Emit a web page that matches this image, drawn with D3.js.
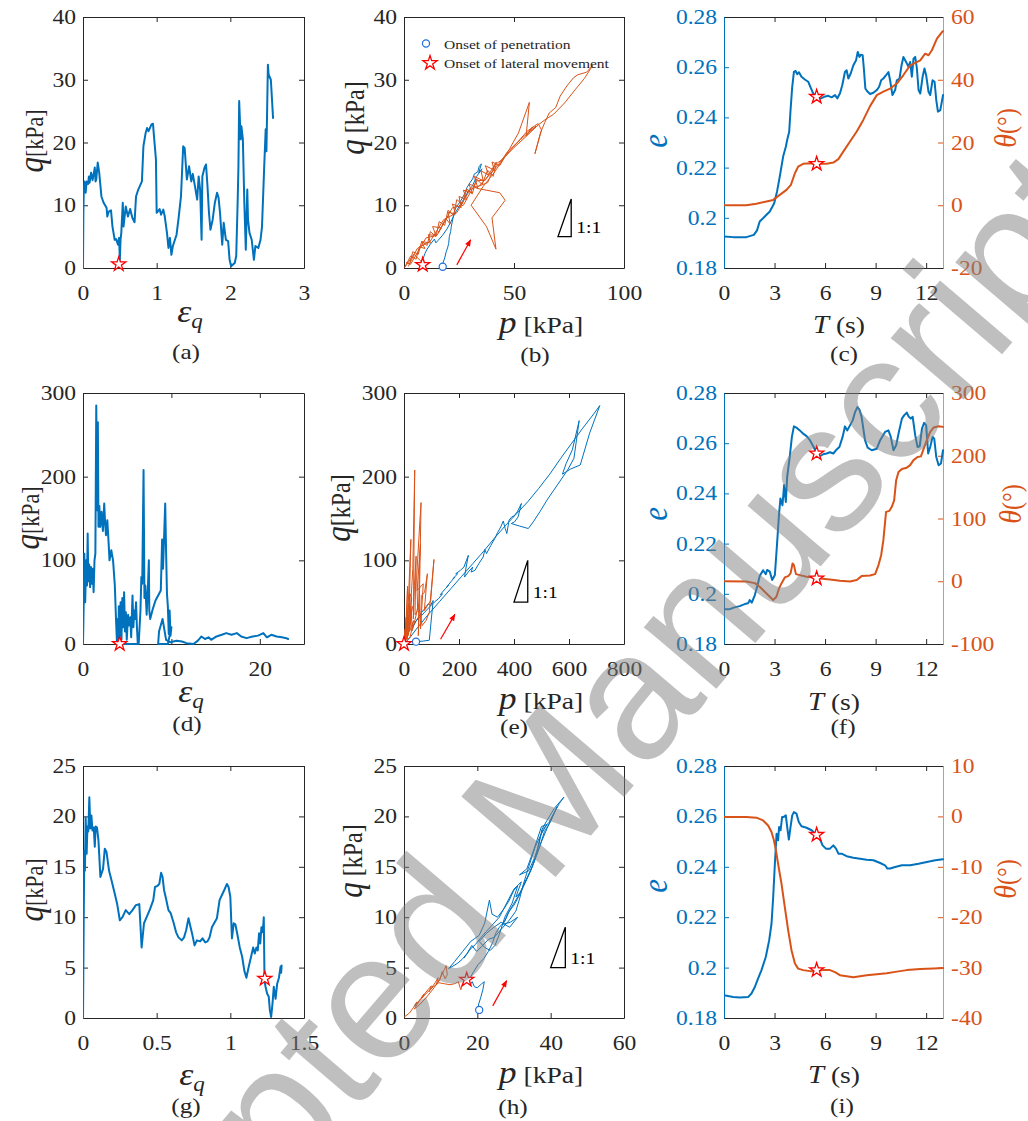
<!DOCTYPE html>
<html><head><meta charset="utf-8">
<script src="https://cdn.jsdelivr.net/npm/d3@7"></script>
<style>body{margin:0;background:#fff}</style>
</head><body>
<script>
// ---------- Row 1: case A ----------
const strainA = [[0,0],[0.005,8.8],[0.01,12],[0.02,13.8],[0.036,12],[0.05,13.8],[0.07,13.4],[0.08,14.6],[0.09,13.6],[0.11,15.2],[0.13,14.0],[0.16,16],[0.17,13.8],[0.18,14.1],[0.2,16.8],[0.22,15.2],[0.25,11.4],[0.28,10.4],[0.32,9.6],[0.33,8.2],[0.35,9.0],[0.38,9.2],[0.4,6.6],[0.43,4.5],[0.45,4.6],[0.475,3.7],[0.49,4.8],[0.5,1.3],[0.51,4.6],[0.52,5.6],[0.54,10.4],[0.55,6.6],[0.58,9.8],[0.61,8.2],[0.64,9.4],[0.67,8.0],[0.7,7.3],[0.72,11.4],[0.75,12.5],[0.77,13],[0.8,13.8],[0.82,19.4],[0.85,21.5],[0.87,22.3],[0.89,21.8],[0.93,22.9],[0.95,23],[0.96,21.5],[0.99,17.3],[1.0,8.8],[1.04,9.4],[1.06,8.5],[1.09,9.3],[1.11,8.2],[1.14,5.6],[1.16,3.2],[1.18,4.8],[1.2,2.1],[1.22,3.5],[1.27,5.3],[1.3,8.2],[1.33,11.4],[1.36,19.4],[1.38,19.1],[1.41,14.1],[1.44,16.2],[1.47,13.8],[1.49,15],[1.52,13],[1.55,10.9],[1.57,14.6],[1.59,12.5],[1.61,4.5],[1.62,14.6],[1.65,16],[1.67,16.5],[1.69,13],[1.71,8.8],[1.73,6.1],[1.76,7.7],[1.79,10.4],[1.82,12],[1.84,11.2],[1.86,8.8],[1.89,3.7],[1.91,7.2],[1.94,4.5],[1.97,4.3],[1.99,1.3],[2.01,0.3],[2.06,0.8],[2.08,1.9],[2.1,10.9],[2.11,16.2],[2.12,26.6],[2.14,20.5],[2.15,22.6],[2.17,20.5],[2.19,10.4],[2.21,2.9],[2.23,12.5],[2.24,7.7],[2.26,5.6],[2.29,4.5],[2.32,1.3],[2.34,3.5],[2.38,3.2],[2.41,4.5],[2.43,6.6],[2.46,16.2],[2.48,22.1],[2.49,18.6],[2.51,32.4],[2.52,30.8],[2.55,30],[2.58,23.9]];
const starA = [0.485, 0.6];

const pathB_before = [[17.6,0.2],[17.8,0.9],[18.5,1.6],[19.2,2.6],[19.8,3.2],[20.3,3.9],[20.6,5.0],[21.2,5.8],[21.5,6.6],[22.0,7.5],[22.8,8.8],[23.5,9.6],[24.8,10.2],[26.3,11.0],[27.5,11.8],[28.6,12.8],[30.0,13.6],[31.2,14.2],[32.0,15.0],[33.5,15.3],[34.2,16.2],[35.2,16.6],[34.0,15.2],[35.5,15.8],[33.0,14.6],[31.0,13.0],[29.5,12.5],[28.0,11.4],[26.5,10.6],[25.0,9.8],[23.0,8.6],[21.5,7.5],[19.5,6.2],[17.5,5.2],[15.5,4.4],[14.5,4.0],[13.8,4.6],[12.0,3.8],[10.5,3.0],[9.5,2.3],[8.8,1.6]];
const pathB_after = [[8.5,0.8],[4.5,2.2],[0.3,0.1],[3,1.9],[5.5,1.4],[7,3.4],[9.5,3.1],[8,4.2],[12,4.0],[11,5.3],[14.5,5.2],[13,6.6],[17,6.4],[15.5,5.6],[19,7.9],[21,7.0],[20,8.9],[23.5,8.6],[22,10.2],[26,9.6],[25,11.4],[28.5,10.9],[27,12.4],[31,12.0],[29.5,13.4],[33.5,12.8],[32,14.6],[36,13.9],[35,15.5],[38.5,14.8],[37,16.3],[41,15.6],[40,16.9],[43.5,16.3],[48,19],[52,21.5],[57,26.4],[55.5,21.0],[58.5,22.5],[56,21.4],[60,22.6],[53,20.5],[47,18.5],[43,16.5],[38,14.5],[33,12.7],[36,12.5],[43.5,12.0],[46,10.8],[40,8.0],[41.8,3.0],[37.5,6.6],[30.5,10.0],[36,13.0],[41,15.2],[46,17.8],[51,19.8],[56,21.8],[60,22.8],[61,23.0],[62.5,22.0],[59.5,18.2],[62,21.5],[64,23.2],[66,24.7],[69,25.6],[71,27.4],[74,29],[77,30.3],[79,30.8],[83,31.2],[85.8,32.3],[82,30.2],[78,28.5],[73,26.3],[68,24.5],[64,23.6],[61,22.8],[55,20.8],[50,19.2],[45,17.4],[42,16.6],[40.5,14.6],[38,15.6],[35.5,13.3],[33,14.2],[31,11.8],[28.5,12.6],[26.5,10.2],[24,10.9],[22.5,8.4],[20,9.2],[18.5,6.8],[16,7.4],[14.5,5.0],[12,5.8],[10.5,3.6],[8,4.2],[6.5,2.2],[4,2.6],[2.5,0.6],[1,0.9],[3,0.6],[10,4.8],[15,5.2],[22,9.6],[27,10.0],[33,13.9],[37,14.0],[42,16.9],[38,13.6],[30,12.5],[24,8.8],[18,7.7],[12,4.3],[6,3.1],[2,0.3]];
const circleB = [17.6, 0.2];
const starB = [8.5, 0.5];
const arrowB = [[24,0.5],[30.3,4.5]];
const slopeB = [[70,5],[76,11]];

const voidC = [[0,0.1926],[0.54,0.1923],[1.33,0.1923],[1.77,0.1932],[1.96,0.195],[2.12,0.1985],[2.42,0.2005],[2.72,0.2025],[2.98,0.2058],[3.15,0.2105],[3.31,0.2164],[3.51,0.2244],[3.67,0.2283],[3.75,0.231],[3.87,0.2343],[3.95,0.2429],[4.05,0.2522],[4.15,0.2581],[4.25,0.2585],[4.35,0.2572],[4.45,0.258],[4.6,0.2562],[4.8,0.2551],[5.0,0.2542],[5.14,0.252],[5.3,0.2495],[5.5,0.2482],[5.69,0.2474],[5.95,0.2482],[6.19,0.2486],[6.39,0.248],[6.59,0.2489],[6.73,0.2476],[6.88,0.2495],[7.02,0.2528],[7.18,0.2581],[7.28,0.2588],[7.38,0.2555],[7.52,0.2575],[7.68,0.2608],[7.84,0.2628],[7.94,0.2661],[8.04,0.2641],[8.13,0.265],[8.23,0.2648],[8.31,0.2588],[8.39,0.2515],[8.53,0.2502],[8.67,0.2493],[8.87,0.2498],[9.07,0.2509],[9.21,0.2522],[9.33,0.2548],[9.46,0.2555],[9.62,0.2568],[9.76,0.2581],[9.86,0.2548],[10.0,0.2489],[10.16,0.2509],[10.26,0.2548],[10.42,0.2555],[10.54,0.2608],[10.65,0.2641],[10.81,0.2621],[10.95,0.2601],[11.05,0.2621],[11.15,0.2562],[11.25,0.2634],[11.35,0.2641],[11.45,0.2595],[11.55,0.2509],[11.65,0.2495],[11.79,0.2562],[11.9,0.2595],[12.0,0.2568],[12.14,0.2502],[12.24,0.2489],[12.38,0.2548],[12.5,0.2542],[12.6,0.2469],[12.7,0.2423],[12.84,0.2429],[13.0,0.2489]];
const thetaC = [[0,0],[1.33,0],[1.92,0.5],[2.52,1.2],[2.92,1.7],[3.31,3.3],[3.71,4.9],[3.97,6.5],[4.21,10.2],[4.4,12.3],[4.7,13.2],[5.1,13.4],[5.5,13.2],[6.09,13.2],[6.49,13.6],[6.79,14.7],[7.08,17.1],[7.48,20.3],[7.88,23.5],[8.27,27.2],[8.67,31.6],[9.07,35.1],[9.46,36.2],[9.86,37.2],[10.26,38.8],[10.65,41.5],[11.05,44.6],[11.35,45.4],[11.65,46.2],[11.94,48.3],[12.14,47.8],[12.34,49.4],[12.64,53.1],[12.94,55.2],[13.0,55.5]];
const starsC = {t: 5.5, e: 0.2482, theta: 13.2};

// ---------- Row 2: case B ----------
const strainD = [[0,0],[0.05,30],[0.1,60],[0.15,108],[0.25,50],[0.35,100],[0.45,70],[0.53,132],[0.6,75],[0.7,95],[0.8,68],[0.9,92],[1.0,72],[1.1,90],[1.2,62],[1.3,100],[1.4,108],[1.5,285],[1.6,160],[1.68,265],[1.75,140],[1.85,165],[1.95,140],[2.1,158],[2.25,135],[2.4,168],[2.5,145],[2.6,130],[2.75,148],[2.9,120],[3.0,100],[3.2,112],[3.4,100],[3.6,70],[3.75,25],[3.85,0],[3.92,30],[4.0,0],[4.05,45],[4.15,10],[4.25,50],[4.35,5],[4.45,55],[4.55,20],[4.65,62],[4.75,15],[4.85,38],[4.95,5],[5.1,35],[5.2,22],[5.35,32],[5.45,8],[5.6,58],[5.7,20],[5.8,40],[5.9,30],[6.0,50],[6.1,20],[6.2,0],[6.0,0],[5.0,0],[4.3,0],[4.6,0],[5.5,0],[6.3,0],[6.5,40],[6.6,80],[6.7,72],[6.85,208],[6.95,55],[7.05,70],[7.2,35],[7.35,70],[7.45,100],[7.5,40],[7.6,30],[7.9,42],[8.2,52],[8.5,58],[8.8,64],[8.95,125],[9.05,90],[9.15,120],[9.3,168],[9.4,110],[9.5,60],[9.6,45],[9.7,12],[9.8,40],[9.9,10],[10.0,20],[9.6,0],[9.0,0],[8.5,0],[8.6,15],[9.0,30],[9.4,5],[9.9,2],[10.2,3],[10.6,4],[11.2,3],[11.7,1],[12.5,0],[13.0,4],[13.4,9],[13.8,6],[14.2,8],[14.5,5],[15.1,9],[15.7,11],[16.2,13],[16.8,11],[17.4,13],[17.9,9],[18.5,7],[19.2,9],[19.8,10],[20.4,13],[20.8,8],[21.3,11],[21.9,9],[22.5,8],[23.0,7],[23.2,6]];
const starD = [4.15, 0];

const pathE_before = [[43.6,2.8],[70,3.5],[92,4.5],[98,25],[106,52],[96,46],[88,48],[72,41],[60,36],[45,28],[30,19],[42,27],[58,32],[75,38],[95,45],[110,50],[125,54],[140,60],[132,59],[150,66],[162,70],[155,68],[172,75],[185,80],[178,78],[195,84],[188,84],[205,88],[218,92],[234,106],[226,92],[220,80],[236,87],[250,92],[244,86],[258,88],[272,96],[288,104],[294,113],[300,108],[316,118],[330,126],[340,133],[352,140],[361,147],[368,138],[374,132],[382,148],[392,152],[400,153],[412,158],[427,168],[415,152],[402,146],[390,144],[420,141],[452,138],[470,146],[494,158],[520,172],[545,184],[570,196],[595,208],[618,222],[637,267],[612,232],[590,216],[576,203],[605,209],[641,214],[675,252],[712,285],[690,275],[650,258],[610,240],[570,222],[530,203],[490,186],[450,170],[410,156],[370,142],[330,127],[290,111],[250,96],[210,81],[170,66],[130,51],[90,36],[50,20],[20,7],[0,0]];
const pathE_after = [[0,0],[4,18],[2,4],[8,32],[5,8],[13,69],[9,14],[16,48],[12,20],[25,125],[18,28],[22,60],[28,55],[20,22],[32,90],[39,208],[34,30],[38,70],[44,105],[40,35],[50,40],[46,80],[58,148],[62,169],[55,35],[52,10],[56,95],[60,120],[48,64],[70,72],[60,18],[63,58],[75,62],[85,84],[74,40],[97,52],[109,101],[92,38],[80,28],[66,22],[52,48],[45,36],[35,22],[30,16],[26,40],[20,42],[14,12],[12,6],[16,26],[8,10],[10,30],[4,6],[18,35],[8,5],[25,30],[15,10],[30,45],[20,15],[35,28],[22,8],[6,4],[3,14],[2,12],[0,0]];
const circleE = [43.6, 2.8];
const starE = [0, 0];
const arrowE = [[133,5.6],[185,35.4]];
const slopeE = [[400,50],[450,100]];

const voidF = [[0,0.1938],[0.3,0.1938],[0.63,0.1946],[0.93,0.1951],[1.23,0.1959],[1.43,0.1962],[1.53,0.1975],[1.65,0.1965],[1.83,0.1995],[1.98,0.2031],[2.12,0.2071],[2.32,0.2094],[2.48,0.2078],[2.56,0.2095],[2.72,0.2088],[2.86,0.2055],[3.02,0.2075],[3.15,0.22],[3.27,0.232],[3.35,0.238],[3.47,0.2353],[3.57,0.2433],[3.67,0.2366],[3.75,0.2466],[3.9,0.2545],[4.03,0.2625],[4.15,0.2667],[4.3,0.2662],[4.5,0.2651],[4.7,0.2638],[4.9,0.2628],[5.1,0.2612],[5.3,0.2588],[5.5,0.2559],[5.69,0.2548],[5.89,0.2556],[6.09,0.2559],[6.29,0.2564],[6.49,0.2559],[6.69,0.2575],[6.85,0.2585],[7.04,0.2625],[7.18,0.2667],[7.32,0.2651],[7.48,0.2671],[7.64,0.2691],[7.78,0.2724],[7.92,0.2744],[8.04,0.2734],[8.17,0.2704],[8.27,0.2658],[8.37,0.2612],[8.53,0.2582],[8.77,0.2572],[9.07,0.2578],[9.27,0.2612],[9.56,0.2645],[9.76,0.2651],[9.9,0.2625],[10.06,0.2572],[10.22,0.2592],[10.36,0.2638],[10.56,0.2698],[10.69,0.2711],[10.85,0.2722],[10.97,0.2705],[11.09,0.2698],[11.2,0.2705],[11.35,0.2632],[11.49,0.2585],[11.62,0.2588],[11.75,0.2658],[11.88,0.2681],[12.0,0.2671],[12.12,0.2559],[12.24,0.2585],[12.38,0.2625],[12.48,0.2618],[12.6,0.2545],[12.74,0.2512],[12.88,0.2519],[13.0,0.2572]];
const thetaF = [[0,0],[1.33,-0.3],[1.83,-3],[2.12,-8.8],[2.42,-16.7],[2.72,-24.7],[2.92,-30],[3.11,-24.7],[3.27,-11.4],[3.41,-3.4],[3.61,6.1],[3.81,8.2],[3.95,12.5],[4.07,28.4],[4.15,25.7],[4.27,11.4],[4.5,9.8],[4.9,7.2],[5.3,6.1],[5.69,4.5],[6.29,2.9],[6.88,0.8],[7.48,-0.3],[7.88,1.9],[8.17,8.2],[8.67,9.3],[8.97,11.4],[9.17,25.7],[9.33,41.6],[9.46,65.5],[9.62,110.6],[9.82,112.2],[9.96,118.6],[10.1,129],[10.22,161],[10.36,174],[10.56,179],[10.85,181],[11.05,185],[11.25,193],[11.49,198],[11.69,199],[11.85,211],[12.04,225],[12.24,238],[12.44,245],[12.74,247],[13,246]];
const starsF = {t: 5.5, e: 0.2559, theta: 4.5};

// ---------- Row 3: case C ----------
const strainG = [[0,0],[0.005,10],[0.009,16.6],[0.013,14.6],[0.018,19.9],[0.025,16.3],[0.03,19],[0.036,18.5],[0.043,21.9],[0.05,18.8],[0.057,20.1],[0.064,18.6],[0.073,18.9],[0.08,17],[0.086,19],[0.095,18.9],[0.105,17.6],[0.118,14],[0.136,14.8],[0.148,16.8],[0.159,16.5],[0.177,14.6],[0.193,13.7],[0.216,12.3],[0.232,11.3],[0.25,9.7],[0.268,10],[0.29,10.7],[0.314,10.3],[0.336,10.7],[0.359,11.2],[0.382,11.3],[0.398,7.0],[0.414,9.4],[0.432,10],[0.455,10.8],[0.477,11.7],[0.489,13],[0.505,13.1],[0.518,13.3],[0.53,14.4],[0.54,14.0],[0.55,12.7],[0.564,11.8],[0.58,10.7],[0.595,10.4],[0.614,9.5],[0.632,8.5],[0.648,8],[0.67,7.7],[0.686,8],[0.7,8.7],[0.716,9.9],[0.727,9.2],[0.743,8.2],[0.757,7.2],[0.773,7.7],[0.795,7.6],[0.811,7.9],[0.83,7.5],[0.845,7.6],[0.859,8],[0.875,9],[0.89,9.4],[0.909,9.9],[0.927,11.7],[0.943,12.2],[0.959,12.7],[0.977,13.3],[0.988,13.0],[1.0,12],[1.011,7.9],[1.023,9.4],[1.034,9.3],[1.045,8.5],[1.064,7],[1.08,6.1],[1.095,4.7],[1.109,4],[1.125,5.1],[1.141,6.1],[1.155,7],[1.166,6.4],[1.177,7],[1.186,6.7],[1.195,8.4],[1.203,7.4],[1.211,9],[1.22,8.5],[1.227,10],[1.232,3.7],[1.239,3.1],[1.25,2.4],[1.261,2.1],[1.268,0.8],[1.277,0.1],[1.286,1.4],[1.295,3.1],[1.307,1.9],[1.318,3.4],[1.33,4],[1.341,5.1],[1.345,4.5],[1.348,5.2]];
const starG = [1.234, 3.9];

const pathH_before = [[20.5,0.8],[20.3,1.3],[20.9,2.0],[21.5,2.8],[21.9,3.6],[21.2,3.4],[20.0,3.0],[19.2,3.1],[18.6,3.6],[18.0,3.3],[17.6,3.7],[19.0,4.6],[20.2,5.3],[21.8,5.9],[23.0,6.6],[24.2,7.5],[25.0,8.4],[26.0,9.0],[27.5,9.6],[28.5,10.5],[30.0,11.2],[31.5,12.2],[32.5,13.0],[33.8,14.0],[35.0,15.0],[36.2,16.4],[37.0,17.8],[38.0,18.8],[39.5,19.4],[41.0,20.4],[42.4,21.3],[43.6,21.9],[41.0,20.8],[39.0,19.6],[37.6,18.7],[36.8,17.2],[35.6,15.9],[34.0,14.6],[31.5,14.2],[33.5,14.8],[35.5,16.8],[37.5,19.0],[39.0,19.2],[37.5,18.3],[35.8,17.0],[34.0,15.0],[32.5,13.2],[31.5,11.8],[30.5,10.6],[28.5,9.6],[26.5,8.8],[24.6,8.0],[23.0,7.8],[21.5,7.2],[19.8,6.6],[18.5,7.2],[17.2,6.4],[15.8,5.8],[14.5,5.4],[12.2,4.9],[13.8,5.6],[16.0,6.6],[18.2,7.6],[20.5,8.2],[22.0,9.4],[23.3,11.7],[24.0,10.3],[25.5,10.0],[27.2,10.8],[28.6,11.6],[30.0,12.7],[31.0,13.1],[29.5,11.4],[27.5,10.0],[26.0,8.3],[24.8,7.2],[23.5,6.7],[22.0,7.0],[20.5,7.6],[22.5,8.4],[24.5,9.0],[26.5,9.5],[28.8,9.0],[31.0,10.0],[29.0,9.5],[27.0,9.3],[29.0,10.8],[31.5,12.3],[33.0,13.5],[34.5,14.6],[36.0,16.0],[37.5,17.5],[39.0,18.8],[40.5,20.0],[41.8,21.0],[40.0,19.5],[38.3,18.5],[37.0,17.0],[35.5,15.5],[33.5,13.8],[31.8,12.5],[30.5,12.0],[32.0,13.5],[30.0,12.8],[28.0,11.4],[26.0,10.0],[24.0,9.2],[22.5,8.6],[21.0,8.0],[19.5,7.3],[18.0,6.8],[16.5,6.0]];
const pathH_after = [[0.1,0.1],[1.5,0.5],[2.5,1.0],[3.5,1.6],[3.0,1.2],[4.5,1.9],[5.5,2.4],[4.8,2.0],[6.5,2.8],[7.5,3.2],[6.8,2.6],[8.5,3.5],[9.3,4.0],[8.8,3.3],[10.2,4.2],[11.0,4.8],[11.5,5.2],[11.8,4.3],[11.2,3.9],[10.4,4.6],[9.8,3.8],[8.2,3.0],[6.0,2.0],[4.2,1.3],[2.8,0.9],[4.0,1.6],[6.2,2.5],[8.0,3.1],[9.5,3.5],[11.0,3.4],[12.5,3.3],[13.8,3.4],[14.8,3.6],[15.5,2.8],[15.9,3.4],[16.4,3.6],[17.0,3.9]];
const circleH = [20.5, 0.8];
const starH = [17.1, 3.8];
const arrowH = [[24.2,1.2],[28,3.7]];
const slopeH = [[40,5],[44,9]];

const voidI = [[0,0.189],[0.54,0.1883],[0.93,0.1881],[1.43,0.1883],[1.63,0.1897],[1.83,0.1923],[2.02,0.1956],[2.22,0.1989],[2.48,0.2042],[2.68,0.2108],[2.82,0.2174],[2.92,0.228],[3.02,0.2412],[3.12,0.2531],[3.21,0.2505],[3.27,0.2558],[3.36,0.2545],[3.45,0.2598],[3.55,0.2598],[3.67,0.2604],[3.75,0.2558],[3.85,0.2508],[3.95,0.2558],[4.05,0.2604],[4.15,0.2617],[4.3,0.2611],[4.44,0.2578],[4.6,0.2561],[4.9,0.2555],[5.2,0.2545],[5.5,0.2525],[5.69,0.2512],[5.85,0.2485],[6.05,0.2472],[6.29,0.2472],[6.49,0.2485],[6.65,0.2472],[6.79,0.2452],[6.98,0.2452],[7.28,0.2442],[7.68,0.2436],[8.08,0.2432],[8.47,0.2428],[8.87,0.2426],[9.27,0.2415],[9.56,0.2406],[9.7,0.2393],[9.86,0.2393],[10.16,0.2399],[10.56,0.2406],[11.05,0.2406],[11.55,0.2412],[12.04,0.2419],[12.54,0.2426],[13,0.243]];
const thetaI = [[0,-0.1],[1.33,-0.1],[1.92,-0.25],[2.32,-0.8],[2.62,-1.8],[2.82,-3.1],[2.96,-4.7],[3.08,-6.7],[3.21,-9.4],[3.41,-13.3],[3.61,-18],[3.81,-22.6],[4.01,-26.6],[4.21,-29.2],[4.4,-30.2],[4.7,-30.5],[5.1,-30.7],[5.5,-30.7],[5.89,-30.5],[6.29,-30.5],[6.59,-30.9],[6.88,-31.5],[7.28,-31.7],[7.68,-31.9],[8.08,-31.7],[8.47,-31.5],[9.07,-31.3],[9.66,-31.1],[10.26,-30.8],[10.85,-30.5],[11.65,-30.3],[12.44,-30.2],[13,-30.1]];
const starsI = {t: 5.5, e: 0.2527, theta: -30.5};

// ---------- tick values ----------
const ticksStrainA = [0,1,2,3], ticksQA = [0,10,20,30,40];
const ticksPB = [0,50,100];
const ticksT = [0,3,6,9,12], ticksVoid = [0.18,0.2,0.22,0.24,0.26,0.28];
const ticksThetaC = [-20,0,20,40,60];
const ticksStrainD = [0,10,20], ticksQD = [0,100,200,300];
const ticksPE = [0,200,400,600,800];
const ticksThetaF = [-100,0,100,200,300];
const ticksStrainG = [0,0.5,1,1.5], ticksQG = [0,5,10,15,20,25];
const ticksPH = [0,20,40,60];
const ticksThetaI = [-40,-30,-20,-10,0,10];

const legendLabels = ["Onset of penetration", "Onset of lateral movement"];
const panelTags = ["(a)","(b)","(c)","(d)","(e)","(f)","(g)","(h)","(i)"];

// ---------- drawing ----------
const W = 1028, H = 1121;
const BLUE = "#0072BD", ORANGE = "#D95319", AX = "#262626", RED = "#FF0000", MBLUE = "#1f6fde";
const SERIF = "'Liberation Serif','Times New Roman',serif";
const SX = 1.15; // horizontal text stretch of the printed figure

const svg = d3.select("body").append("svg").attr("width", W).attr("height", H)
  .style("font-family", SERIF);
const defs = svg.append("defs");
defs.append("marker").attr("id", "arrowHead").attr("viewBox", "0 0 10 10")
  .attr("refX", 9).attr("refY", 5).attr("markerWidth", 8).attr("markerHeight", 7)
  .attr("markerUnits", "userSpaceOnUse").attr("orient", "auto")
  .append("path").attr("d", "M0,1 L10,5 L0,9 Z").attr("fill", RED);

const cols = [{x:83, w:221}, {x:404, w:220}, {x:724, w:219}];
const rows = [{y:17, h:251}, {y:393, h:251}, {y:766, h:252}];
const fmt = d => String(d);

function styleAxis(sel, color, withText) {
  sel.attr("color", color).attr("font-family", SERIF).attr("font-size", 20.5);
  sel.select(".domain").remove();
  sel.selectAll("line").attr("stroke-width", 1);
  if (withText) sel.selectAll("text").attr("transform", `scale(${SX},1)`);
}

function panel(id, c, r, xDom, yDom, xTicks, yTicks, y2Dom, y2Ticks) {
  const L = cols[c].x, T = rows[r].y, w = cols[c].w, h = rows[r].h;
  const x = d3.scaleLinear().domain(xDom).range([L, L + w]);
  const y = d3.scaleLinear().domain(yDom).range([T + h, T]);
  const y2 = y2Dom ? d3.scaleLinear().domain(y2Dom).range([T + h, T]) : null;
  const g = svg.append("g");
  defs.append("clipPath").attr("id", "clip-" + id).append("rect")
    .attr("x", L).attr("y", T).attr("width", w + 1).attr("height", h + 1);
  const tk = 5;
  g.append("g").attr("transform", `translate(0,${T + h})`)
    .call(d3.axisBottom(x).tickValues(xTicks).tickFormat(fmt).tickSizeInner(-tk).tickSizeOuter(0).tickPadding(17))
    .call(s => styleAxis(s, AX, true));
  g.append("g").attr("transform", `translate(0,${T})`)
    .call(d3.axisTop(x).tickValues(xTicks).tickFormat(() => "").tickSizeInner(-tk).tickSizeOuter(0))
    .call(s => styleAxis(s, AX, false));
  const leftColor = y2 ? BLUE : AX;
  g.append("g").attr("transform", `translate(${L},0)`)
    .call(d3.axisLeft(y).tickValues(yTicks).tickFormat(fmt).tickSizeInner(-tk).tickSizeOuter(0).tickPadding(6))
    .call(s => styleAxis(s, leftColor, true));
  if (y2) {
    g.append("g").attr("transform", `translate(${L + w},0)`)
      .call(d3.axisRight(y2).tickValues(y2Ticks).tickFormat(fmt).tickSizeInner(-tk).tickSizeOuter(0).tickPadding(7))
      .call(s => styleAxis(s, ORANGE, true));
  } else {
    g.append("g").attr("transform", `translate(${L + w},0)`)
      .call(d3.axisRight(y).tickValues(yTicks).tickFormat(() => "").tickSizeInner(-tk).tickSizeOuter(0))
      .call(s => styleAxis(s, AX, false));
  }
  // frame
  const fr = g.append("g").attr("fill", "none").attr("stroke-width", 1);
  fr.append("path").attr("d", `M${L + .5},${T + .5}H${L + w + .5}`).attr("stroke", AX);
  fr.append("path").attr("d", `M${L + .5},${T + h + .5}H${L + w + .5}`).attr("stroke", AX);
  fr.append("path").attr("d", `M${L + .5},${T + .5}V${T + h + .5}`).attr("stroke", leftColor);
  fr.append("path").attr("d", `M${L + w + .5},${T + .5}V${T + h + .5}`)
    .attr("stroke", y2 ? ORANGE : AX).attr("stroke-opacity", y2 ? 0.65 : 1);
  return {g, x, y, y2, L, T, w, h, id};
}

function drawLine(P, data, color, width, yScale) {
  const ys = yScale || P.y;
  P.g.append("path").datum(data)
    .attr("clip-path", `url(#clip-${P.id})`)
    .attr("d", d3.line().x(d => P.x(d[0])).y(d => ys(d[1])))
    .attr("fill", "none").attr("stroke", color).attr("stroke-width", width)
    .attr("stroke-linejoin", "round").attr("stroke-linecap", "round");
}
const starPath = d3.symbol(d3.symbolStar, 62)();
const circPath = d3.symbol(d3.symbolCircle, 40)();
function star(px, py) {
  svg.append("path").attr("d", starPath).attr("transform", `translate(${px},${py})`)
    .attr("fill", "#fff").attr("stroke", RED).attr("stroke-width", 1.3);
}
function circ(px, py) {
  svg.append("path").attr("d", circPath).attr("transform", `translate(${px},${py})`)
    .attr("fill", "#fff").attr("stroke", MBLUE).attr("stroke-width", 1.2);
}
function arrow(P, a) {
  P.g.append("line").attr("x1", P.x(a[0][0])).attr("y1", P.y(a[0][1]))
    .attr("x2", P.x(a[1][0])).attr("y2", P.y(a[1][1]))
    .attr("stroke", RED).attr("stroke-width", 1.2).attr("marker-end", "url(#arrowHead)");
}
function slope(P, s) {
  const x0 = P.x(s[0][0]), x1 = P.x(s[1][0]), y0 = P.y(s[0][1]), y1 = P.y(s[1][1]);
  P.g.append("path").attr("d", `M${x0},${y0}L${x1},${y0}L${x1},${y1}Z`)
    .attr("fill", "none").attr("stroke", "#000").attr("stroke-width", 1.3);
  text(x1 + 5, y0 - 4, [{t: "1:1", s: 17}], {anchor: "start", fill: "#000"});
}
function text(x, y, parts, o = {}) {
  const t = svg.append("text")
    .attr("transform", `translate(${x},${y}) scale(${SX},1) rotate(${o.rot || 0})`)
    .attr("text-anchor", o.anchor || "middle").attr("fill", o.fill || AX);
  parts.forEach(p => {
    const s = t.append("tspan").text(p.t).attr("font-size", p.s);
    if (p.i) s.attr("font-style", "italic");
    if (p.dy !== undefined) s.attr("dy", p.dy);
    if (p.dx !== undefined) s.attr("dx", p.dx);
  });
  return t;
}
const qLab = (sp, sq, sk) => [{t: "q", s: sq || 31, i: true}, {t: (sp ? " " : "") + "[kPa]", s: sk || 22}];
const epsLab = [{t: "\u03B5", s: 31, i: true}, {t: "q", s: 20, i: true, dy: 6}];
const pLab = [{t: "p", s: 31, i: true}, {t: " [kPa]", s: 24}];
const tLab = [{t: "T", s: 25, i: true}, {t: " (s)", s: 24}];
const eLab = [{t: "e", s: 31, i: true}];
const thLab = [{t: "\u03B8", s: 28, i: true}, {t: "(\u00B0)", s: 24}];

// ----- (a) -----
const A = panel("a", 0, 0, [0, 3], [0, 40], ticksStrainA, ticksQA);
drawLine(A, strainA, BLUE, 2);
star(A.x(starA[0]), A.y(starA[1]));

// ----- (b) -----
const B = panel("b", 1, 0, [0, 100], [0, 40], ticksPB, ticksQA);
drawLine(B, pathB_before, BLUE, 1);
drawLine(B, pathB_after, ORANGE, 1);
arrow(B, arrowB);
slope(B, slopeB);
circ(B.x(circleB[0]), B.y(circleB[1]));
star(B.x(starB[0]), B.y(starB[1]));
// legend
circ(426, 43.5);
star(430, 63);
text(444, 48.5, [{t: legendLabels[0], s: 13.5}], {anchor: "start"});
text(444, 68, [{t: legendLabels[1], s: 13.5}], {anchor: "start"});

// ----- (c) -----
const C = panel("c", 2, 0, [0, 13], [0.18, 0.28], ticksT, ticksVoid, [-20, 60], ticksThetaC);
drawLine(C, voidC, BLUE, 2);
drawLine(C, thetaC, ORANGE, 2, C.y2);
star(C.x(starsC.t), C.y(starsC.e));
star(C.x(starsC.t), C.y2(starsC.theta));

// ----- (d) -----
const D = panel("d", 0, 1, [0, 25], [0, 300], ticksStrainD, ticksQD);
drawLine(D, strainD, BLUE, 2);
star(D.x(starD[0]), D.y(starD[1]));

// ----- (e) -----
const E = panel("e", 1, 1, [0, 800], [0, 300], ticksPE, ticksQD);
drawLine(E, pathE_before, BLUE, 1);
drawLine(E, pathE_after, ORANGE, 1);
arrow(E, arrowE);
slope(E, slopeE);
circ(E.x(circleE[0]), E.y(circleE[1]));
star(E.x(starE[0]), E.y(starE[1]));

// ----- (f) -----
const F = panel("f", 2, 1, [0, 13], [0.18, 0.28], ticksT, ticksVoid, [-100, 300], ticksThetaF);
drawLine(F, voidF, BLUE, 2);
drawLine(F, thetaF, ORANGE, 2, F.y2);
star(F.x(starsF.t), F.y(starsF.e));
star(F.x(starsF.t), F.y2(starsF.theta));

// ----- (g) -----
const G = panel("g", 0, 2, [0, 1.5], [0, 25], ticksStrainG, ticksQG);
drawLine(G, strainG, BLUE, 2);
star(G.x(starG[0]), G.y(starG[1]));

// ----- (h) -----
const Hp = panel("h", 1, 2, [0, 60], [0, 25], ticksPH, ticksQG);
drawLine(Hp, pathH_before, BLUE, 1);
drawLine(Hp, pathH_after, ORANGE, 1);
arrow(Hp, arrowH);
slope(Hp, slopeH);
circ(Hp.x(circleH[0]), Hp.y(circleH[1]));
star(Hp.x(starH[0]), Hp.y(starH[1]));

// ----- (i) -----
const I = panel("i", 2, 2, [0, 13], [0.18, 0.28], ticksT, ticksVoid, [-40, 10], ticksThetaI);
drawLine(I, voidI, BLUE, 2);
drawLine(I, thetaI, ORANGE, 2, I.y2);
star(I.x(starsI.t), I.y(starsI.e));
star(I.x(starsI.t), I.y2(starsI.theta));

// ----- axis titles -----
text(43, 141, qLab(false), {rot: -90});
text(364, 118, qLab(true, 31, 24), {rot: -90});
text(39, 518, qLab(false), {rot: -90});
text(350, 508, qLab(false, 31, 24), {rot: -90});
text(43, 890, qLab(false), {rot: -90});
text(362, 861, qLab(true, 31, 24), {rot: -90});

text(190, 322, epsLab);
text(191, 702, epsLab);
text(192, 1085, epsLab);
text(541, 333, pLab);
text(541, 709, pLab);
text(541, 1083, pLab);
text(839, 333, tLab);
text(834, 710, tLab);
text(834, 1083, tLab);

[[C, 141, 128, 1016], [F, 514, 504, 1021], [I, 886, 879, 1016]].forEach(([P, ey, ty, tx]) => {
  text(667, ey, eLab, {rot: -90, fill: BLUE});
  text(tx, ty, thLab, {rot: -90, fill: ORANGE});
});

// ----- panel tags -----
const tagPos = [[186,359],[535,362],[844,361],[187,731],[514,734],[843,734],[186,1113],[513,1114],[842,1113]];
panelTags.forEach((t, i) => text(tagPos[i][0], tagPos[i][1], [{t, s: 22}]));

// ----- watermark -----
svg.append("text").text("Accepted Manuscript")
  .attr("transform", "translate(26,1497) rotate(-49.5)")
  .attr("font-family", "'Liberation Sans', Arial, sans-serif").attr("font-size", 180)
  .attr("fill", "#808080").attr("fill-opacity", 0.5);
</script>
</body></html>
